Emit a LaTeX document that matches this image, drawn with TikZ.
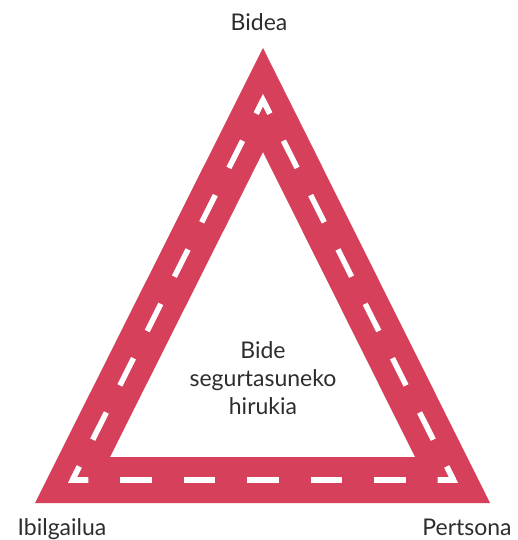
\documentclass[tikz,border=0pt]{standalone}
\usepackage{fontspec}
\setmainfont{Lato}
\usetikzlibrary{calc}
\definecolor{roadred}{RGB}{214,64,90}
\definecolor{labelgray}{RGB}{45,45,45}
\begin{document}
\begin{tikzpicture}[
   x=1pt,y=-1pt,
   font=\fontsize{23}{28}\selectfont,
   every node/.style={text=labelgray,inner sep=0pt},
   road/.style={fill=roadred,even odd rule},
   lane/.style={draw=white,line width=5.5pt},
   corner/.style={lane,line join=miter,miter limit=10},
   label/.style={anchor=base}]
\useasboundingbox (0,0) rectangle (517,540);
% edges of the road
\coordinate (TopOut) at (263,48);
\coordinate (LeftOut) at (35,503);
\coordinate (RightOut) at (490,503);
\coordinate (TopIn) at (263,152);
\coordinate (LeftIn) at (110,457);
\coordinate (RightIn) at (415,457);
\fill[road] (TopOut) -- (LeftOut) -- (RightOut) -- cycle
            (TopIn) -- (LeftIn) -- (RightIn) -- cycle;
% middle of the road
\coordinate (Top) at (263,100);
\coordinate (Left) at (72.5,480);
\coordinate (Right) at (453.5,480);
\draw[lane,dash pattern=on 30.4pt off 30.4pt,dash phase=15.2pt] (Top) -- (Left);
\draw[lane,dash pattern=on 30.4pt off 30.4pt,dash phase=15.2pt] (Top) -- (Right);
\draw[lane,dash pattern=on 31.75pt off 31.75pt,dash phase=15.9pt] (Left) -- (Right);
\draw[corner] ($(Top)!15.2pt!(Left)$) -- (Top) -- ($(Top)!15.2pt!(Right)$);
\draw[corner] ($(Left)!15.2pt!(Top)$) -- (Left) -- ($(Left)!15.9pt!(Right)$);
\draw[corner] ($(Right)!15.2pt!(Top)$) -- (Right) -- ($(Right)!15.9pt!(Left)$);
% labels
\node[label] (bidea) at (259,31) {Bidea};
\node[label] (ibilgailua) at (62,535) {Ibilgailua};
\node[label] (pertsona) at (467,535) {Pertsona};
\node[align=center] (hirukia) at (263,378) {Bide\\segurtasuneko\\hirukia};
\end{tikzpicture}
\end{document}
